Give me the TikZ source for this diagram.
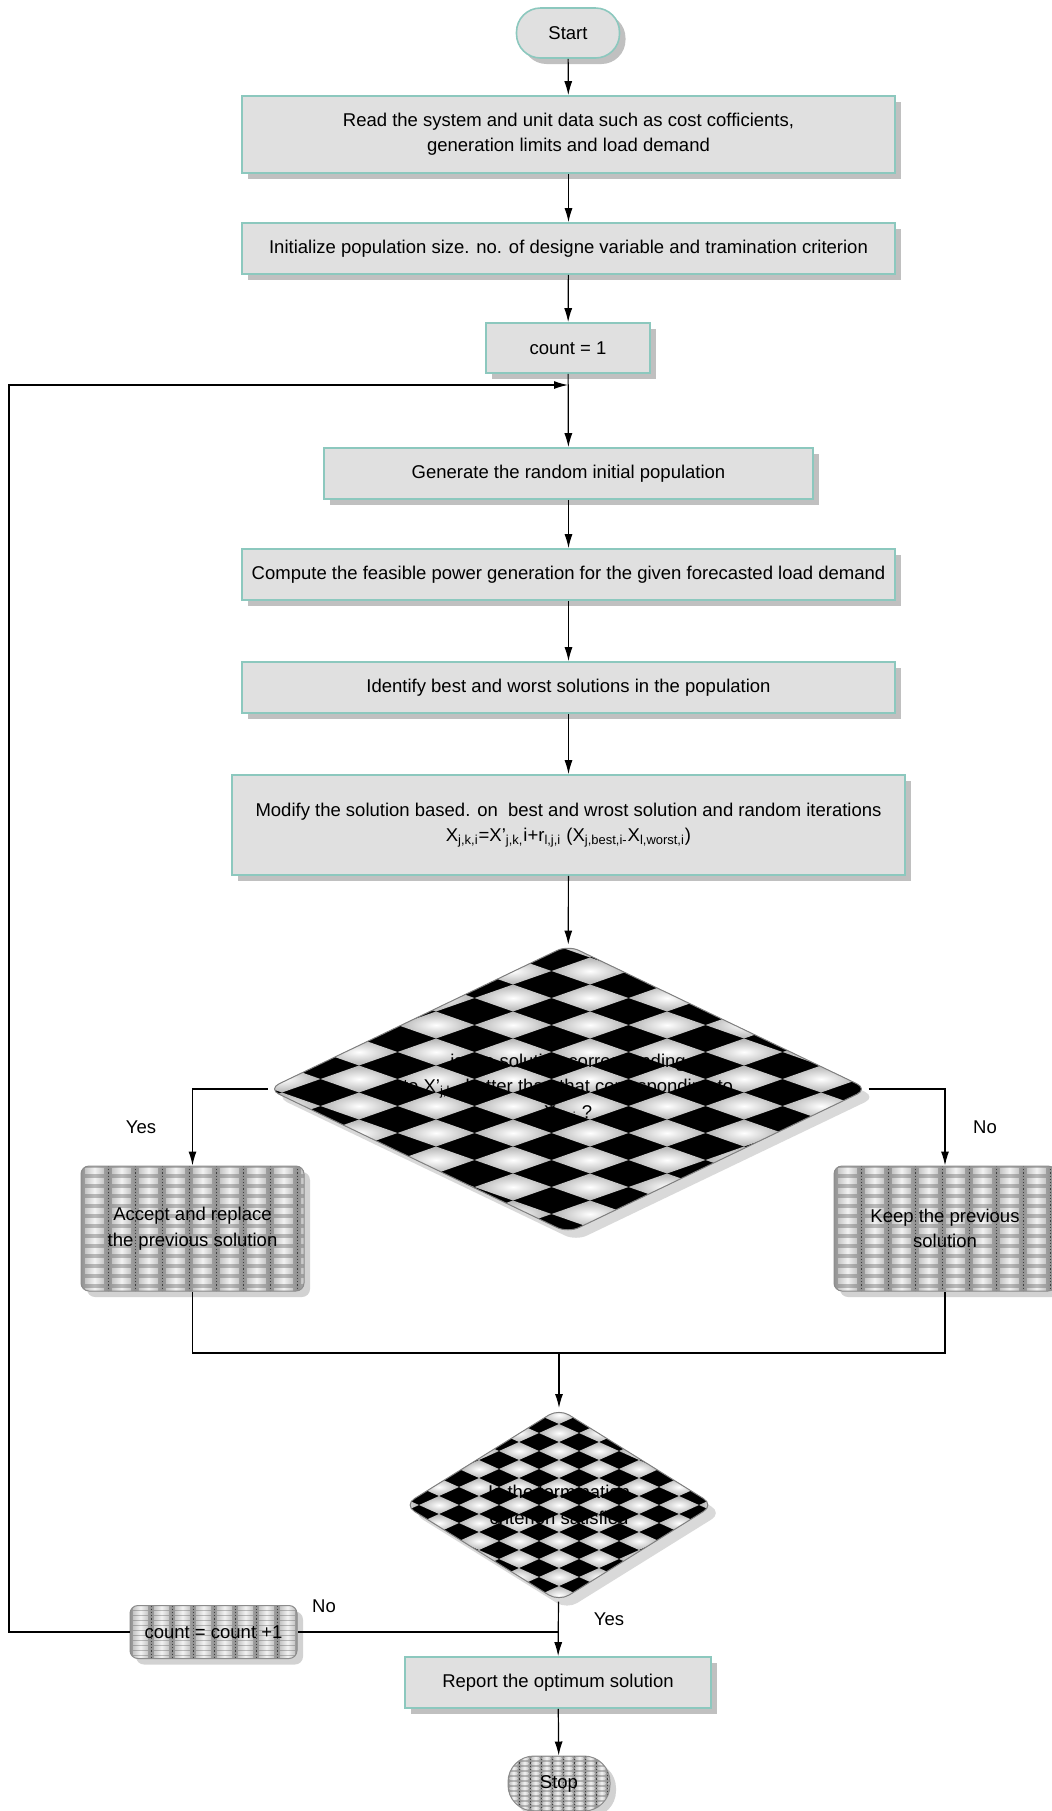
\documentclass[tikz,border=0pt]{standalone}
\usepackage{fontspec}
\setmainfont{Liberation Sans}
\usetikzlibrary{
    calc,
    arrows.meta,
    shapes.geometric,
    shadows
}
\definecolor{boxfill}{RGB}{224,224,224}
\definecolor{boxline}{RGB}{140,200,190}
\definecolor{shadowgray}{RGB}{192,192,192}

% brick fill: cell width, cell height, cols, rows (from the top left corner)
\newcommand\brickfill[4]{%
  \fill[gray!70] (path picture bounding box.south west) rectangle (path picture bounding box.north east);
  \coordinate (bk) at (path picture bounding box.north west);
  \foreach \cx in {0,...,#3}
    \shade[sharp corners, left color=gray!85, right color=gray!85, middle color=gray!55]
      ($(bk)+(\cx*#1,0)$) rectangle ($(bk)+(\cx*#1+#1,#4*#2+#2)$);
  \foreach \cx in {0,...,#3}
    \foreach \cy in {0,...,#4}
      \shade[sharp corners, left color=gray!45, right color=gray!45, middle color=white!90!gray]
        ($(bk)+(\cx*#1+0.15*#1,\cy*#2+0.25*#2)$) rectangle ($(bk)+(\cx*#1+0.85*#1,\cy*#2+0.75*#2)$);
  \foreach \cx in {0,...,#3}
    \draw[black!75, densely dotted, line width=0.3pt]
      ($(bk)+(\cx*#1+#1,0)$) -- ($(bk)+(\cx*#1+#1,#4*#2+#2)$);
}
% checker fill: half width, half height, cols, rows, phase x, phase y
\newcommand\checkfill[6]{%
  \fill[black] (path picture bounding box.south west) rectangle (path picture bounding box.north east);
  \coordinate (ck) at (path picture bounding box.center);
  \foreach \cx in {-#3,...,#3}
    \foreach \cy in {-#4,...,#4}
      \shade[sharp corners, inner color=white, outer color=gray!60]
        ($(ck)+(2*\cx*#1+#5-#1,2*\cy*#2+#6)$) -- ++(#1,-#2) -- ++(#1,#2) -- ++(-#1,#2) -- cycle;
}

\tikzset{
  every path/.style={
    line width=0.6pt
  },
  every node/.style={
    font=\fontsize{9.25}{12.7}\selectfont,
    align=center
  },
  procbox/.style={
    rectangle, draw=boxline, fill=boxfill, line width=0.8pt, inner sep=0pt,
    drop shadow={shadow xshift=3pt, shadow yshift=-3pt, fill=shadowgray, opacity=1}
  },
  termbox/.style={
    procbox, rounded corners=12pt
  },
  decision/.style={
    diamond, draw=gray, line width=0.5pt, rounded corners=6pt, inner sep=0pt,
    drop shadow={shadow xshift=4pt, shadow yshift=-4pt, fill=gray!30, opacity=1}
  },
  patbox/.style={
    rectangle, draw=gray!90, line width=0.5pt, rounded corners=4pt, inner sep=0pt,
    drop shadow={shadow xshift=3pt, shadow yshift=-3pt, fill=gray!35, opacity=1}
  },
  lbl/.style={
    inner sep=1pt
  }
}

\begin{document}
\begin{tikzpicture}[x=0.5pt,y=-0.5pt,>={Latex[length=7pt,width=4pt]}]
    \useasboundingbox (0,0) rectangle (1052,1811);

    % steps
    \node[termbox, minimum width=51.5pt, minimum height=25pt] (start) at (568,33) {Start};
    \node[procbox, minimum width=326.5pt, minimum height=38.5pt] (read) at (568.5,134.5)
        {Read the system and unit data such as cost cofficients,\\generation limits and load demand};
    \node[procbox, minimum width=326.5pt, minimum height=25.5pt] (init) at (568.5,248.5)
        {Initialize population size. no. of designe variable and tramination criterion};
    \node[procbox, minimum width=82pt, minimum height=25pt] (count1) at (568,348) {count = 1};
    \node[procbox, minimum width=244.5pt, minimum height=25.5pt] (gen) at (568.5,473.5)
        {Generate the random initial population};
    \node[procbox, minimum width=326.5pt, minimum height=25.5pt] (comp) at (568.5,574.5)
        {Compute the feasible power generation for the given forecasted load demand};
    \node[procbox, minimum width=326.5pt, minimum height=25.5pt] (ident) at (568.5,687.5)
        {Identify best and worst solutions in the population};
    \node[procbox, minimum width=336.5pt, minimum height=50pt] (modify) at (568.5,825)
        {Modify the solution based. on~ best and wrost solution and random iterations\\
         X\textsubscript{j,k,i}=X'\textsubscript{j,k,}i+r\textsubscript{l,j,i} (X\textsubscript{j,best,i-}X\textsubscript{l,worst,i})};

    % first test
    \node[decision, aspect=2.08, minimum width=300pt, minimum height=144pt,
          path picture={\checkfill{38.5}{13.5}{5}{6}{22}{-10}}] (dia1) at (568,1089)
        {is the solution corresponding\\to X'\textsubscript{j,k,i} better than that corresponding to\\X\textsubscript{j,k,i} ?};
    \node[patbox, minimum width=111.5pt, minimum height=62.5pt,
          path picture={\brickfill{27}{10}{8}{12}}] (accept) at (192.5,1228.5)
        {Accept and replace\\the previous solution};
    \node[patbox, minimum width=111pt, minimum height=62.5pt,
          path picture={\brickfill{27}{10}{8}{12}}] (keep) at (945,1228.5)
        {Keep the previous\\solution};
    \node[lbl] (yes1) at (141,1127) {Yes};
    \node[lbl] (no1) at (985,1127) {No};

    % second test
    \node[decision, aspect=1.6, minimum width=155pt, minimum height=96.5pt,
          path picture={\checkfill{20}{9}{5}{7}{0}{0}}] (dia2) at (559,1505)
        {Is the termination\\criterion satisfied};
    \node[patbox, minimum width=83.5pt, minimum height=26.5pt,
          path picture={\brickfill{21}{5}{8}{10}}] (count2) at (213.5,1632) {count = count +1};
    \node[procbox, minimum width=153pt, minimum height=25.5pt] (report) at (558,1682.5)
        {Report the optimum solution};
    \node[patbox, rounded corners=13pt, minimum width=51pt, minimum height=27.5pt,
          path picture={\brickfill{11}{5}{9}{11}}] (stop) at (559,1783.5) {Stop};
    \node[lbl] (no2) at (324,1606) {No};
    \node[lbl] (yes2) at (609,1619) {Yes};

    % junctions
    \coordinate (loopin) at (568,385);
    \coordinate (loopcorner) at (9,385);
    \coordinate (merge) at (559,1353);
    \coordinate (junc) at (559,1632);

    % connectors
    \draw[->] (start) -- (read);
    \draw[->] (read) -- (init);
    \draw[->] (init) -- (count1);
    \draw[->] (count1) -- (gen);
    \draw[->] (gen) -- (comp);
    \draw[->] (comp) -- (ident);
    \draw[->] (ident) -- (modify);
    \draw[->] (modify) -- (dia1);
    \draw[->] (dia1.west) -| (accept.north);
    \draw[->] (dia1.east) -| (keep.north);
    \draw (accept.south) |- (merge) -| (keep.south);
    \draw[->] (merge) -- (dia2);
    \draw[->] (dia2) -- (report);
    \draw (junc) -- (count2.east);
    \draw[->] (count2.west) -| (loopcorner) -- (loopin);
    \draw[->] (report) -- (stop);
\end{tikzpicture}
\end{document}
